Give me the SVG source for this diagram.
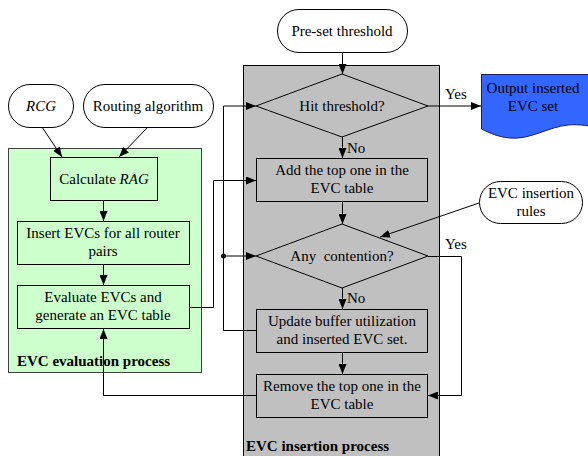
<svg xmlns="http://www.w3.org/2000/svg" width="588" height="456" viewBox="0 0 588 456">
<style>
text{font-family:"Liberation Serif","Times New Roman",serif;font-size:15px;fill:#000}
.c{text-anchor:middle}
.b{font-weight:bold}
.i{font-style:italic}
.term{fill:#fff;stroke:#000;stroke-width:1}
.gbox{fill:#ccffcc;stroke:#000;stroke-width:1}
.ybox{fill:#c0c0c0;stroke:#000;stroke-width:1}
.ln{fill:none;stroke:#000;stroke-width:1}
</style>
<defs>
<marker id="ah" markerWidth="10" markerHeight="8" refX="10" refY="4" orient="auto" markerUnits="userSpaceOnUse">
<path d="M0,0 L10,4 L0,8 Z" fill="#000"/>
</marker>
</defs>

<g id="evc-evaluation-process">
<rect x="8.5" y="148.5" width="193" height="224" fill="#ccffcc" stroke="#404040"/>
<text x="17" y="366" class="b">EVC evaluation process</text>
</g>

<g id="evc-insertion-process">
<rect x="243.5" y="65.5" width="196" height="400" fill="#c0c0c0" stroke="#000"/>
<text x="246" y="451" class="b">EVC insertion process</text>
</g>

<g id="rcg">
<rect x="8.5" y="84.5" width="65" height="43" rx="21.5" class="term"/>
<text x="41" y="111" class="c i">RCG</text>
</g>

<g id="routing-algorithm">
<rect x="83.5" y="84.5" width="130" height="43" rx="21.5" class="term"/>
<text x="148" y="111" class="c">Routing algorithm</text>
</g>

<g id="pre-set-threshold">
<rect x="277.5" y="9.5" width="130" height="43" rx="21.5" class="term"/>
<text x="342" y="36" class="c">Pre-set threshold</text>
</g>

<g id="calculate-rag">
<rect x="50.5" y="157.5" width="107" height="43" class="gbox"/>
<text x="104" y="184" class="c">Calculate <tspan class="i">RAG</tspan></text>
</g>

<g id="insert-evcs">
<rect x="17.5" y="221.5" width="172" height="43" class="gbox"/>
<text x="103" y="238" class="c">Insert EVCs for all router</text>
<text x="103" y="256" class="c">pairs</text>
</g>

<g id="evaluate-evcs">
<rect x="17.5" y="285.5" width="172" height="43" class="gbox"/>
<text x="103" y="302" class="c">Evaluate EVCs and</text>
<text x="103" y="320" class="c">generate an EVC table</text>
</g>

<g id="hit-threshold">
<polygon points="342,74 428,106 342,137 256,106" class="ybox"/>
<text x="342" y="111" class="c">Hit threshold?</text>
</g>

<g id="add-top-one">
<rect x="256.5" y="158.5" width="171" height="43" class="ybox"/>
<text x="342" y="175" class="c">Add the top one in the</text>
<text x="342" y="193" class="c">EVC table</text>
</g>

<g id="any-contention">
<polygon points="342,224 428,256 342,288 256,256" class="ybox"/>
<text x="342" y="261" class="c" style="white-space:pre">Any  contention?</text>
</g>

<g id="update-buffer">
<rect x="256.5" y="309.5" width="171" height="43" class="ybox"/>
<text x="342" y="326" class="c">Update buffer utilization</text>
<text x="342" y="344" class="c">and inserted EVC set.</text>
</g>

<g id="remove-top-one">
<rect x="256.5" y="374.5" width="171" height="43" class="ybox"/>
<text x="342" y="391" class="c">Remove the top one in the</text>
<text x="342" y="409" class="c">EVC table</text>
</g>

<g id="output-inserted-evc-set">
<path d="M481.5,74.5 H600 V128 C590,126 580,124 568,125 C548,127 530,140 510,138 C498,137 490,133 481.5,129 Z" fill="#3366ff" stroke="#1a1a66" stroke-width="1"/>
<text x="533" y="93" class="c">Output inserted</text>
<text x="533" y="111" class="c">EVC set</text>
</g>

<g id="evc-insertion-rules">
<rect x="479.5" y="181.5" width="103" height="42" rx="21" class="term"/>
<text x="531" y="198" class="c">EVC insertion</text>
<text x="531" y="216" class="c">rules</text>
</g>

<g id="connectors">
<line x1="42" y1="127" x2="62" y2="157" class="ln" marker-end="url(#ah)"/>
<line x1="148" y1="127" x2="119" y2="157" class="ln" marker-end="url(#ah)"/>
<line x1="103.5" y1="201" x2="103.5" y2="221" class="ln" marker-end="url(#ah)"/>
<line x1="103.5" y1="265" x2="103.5" y2="285" class="ln" marker-end="url(#ah)"/>
<polyline points="190,307.5 213.5,307.5 213.5,180.5 256,180.5" class="ln" marker-end="url(#ah)"/>
<polyline points="256,330.5 223.5,330.5 223.5,106 256,106" class="ln" marker-end="url(#ah)"/>
<line x1="223.5" y1="256" x2="256" y2="256" class="ln" marker-end="url(#ah)"/>
<circle cx="223.5" cy="256" r="2.5" fill="#000"/>
<line x1="342.5" y1="52" x2="342.5" y2="74" class="ln" marker-end="url(#ah)"/>
<line x1="342.5" y1="137" x2="342.5" y2="158" class="ln" marker-end="url(#ah)"/>
<text x="347" y="153">No</text>
<line x1="428" y1="106" x2="481" y2="106" class="ln" marker-end="url(#ah)"/>
<text x="445" y="99">Yes</text>
<line x1="342.5" y1="202" x2="342.5" y2="224" class="ln" marker-end="url(#ah)"/>
<line x1="479" y1="203" x2="380" y2="237" class="ln" marker-end="url(#ah)"/>
<line x1="342.5" y1="288" x2="342.5" y2="309" class="ln" marker-end="url(#ah)"/>
<text x="347" y="303">No</text>
<polyline points="428,256.5 461.5,256.5 461.5,395.5 428,395.5" class="ln" marker-end="url(#ah)"/>
<text x="445" y="249">Yes</text>
<line x1="342.5" y1="353" x2="342.5" y2="374" class="ln" marker-end="url(#ah)"/>
<polyline points="256,395.5 103.5,395.5 103.5,329" class="ln" marker-end="url(#ah)"/>
</g>
</svg>
